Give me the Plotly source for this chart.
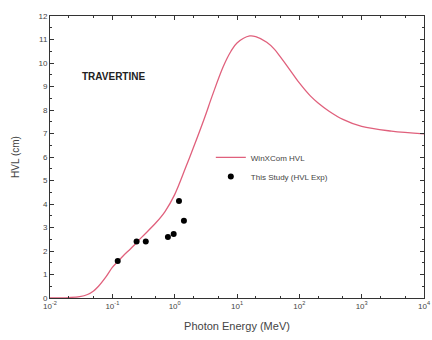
import plotly.graph_objects as go

# WinXCom HVL curve
curve_energy = [0.01, 0.02, 0.03, 0.04, 0.05, 0.06, 0.08, 0.1, 0.122, 0.15, 0.2, 0.3, 0.5,
                0.7, 1, 1.5, 2, 3, 4, 6, 8, 10, 16, 20, 30, 40, 50, 70, 100, 150, 200, 300,
                500, 1000, 3000, 10000]
curve_hvl = [0.0, 0.02, 0.06, 0.15, 0.3, 0.5, 0.92, 1.3, 1.55, 1.8, 2.12, 2.6, 3.2,
             3.68, 4.4, 5.55, 6.4, 7.65, 8.6, 9.84, 10.5, 10.85, 11.15, 11.12, 10.88, 10.58,
             10.25, 9.72, 9.15, 8.6, 8.3, 7.95, 7.6, 7.3, 7.1, 6.98]

# Experimental points
exp_energy = [0.122, 0.245, 0.344, 0.779, 0.964, 1.173, 1.408]
exp_hvl = [1.57, 2.40, 2.40, 2.60, 2.72, 4.13, 3.29]

xtick_vals = [0.01, 0.1, 1, 10, 100, 1000, 10000]
xtick_text = ["10<sup>-2</sup>", "10<sup>-1</sup>", "10<sup>0</sup>", "10<sup>1</sup>",
              "10<sup>2</sup>", "10<sup>3</sup>", "10<sup>4</sup>"]
ytick_vals = list(range(0, 13))

font = "Liberation Sans, Arial, sans-serif"
gray = "#444444"

fig = go.Figure()
fig.add_trace(go.Scatter(x=curve_energy, y=curve_hvl, mode="lines", name="WinXCom HVL",
                         line=dict(color="#e0607c", width=1.3, shape="spline", smoothing=1.0)))
fig.add_trace(go.Scatter(x=exp_energy, y=exp_hvl, mode="markers", name="This Study (HVL Exp)",
                         marker=dict(color="black", size=6)))

fig.add_annotation(text="<b>TRAVERTINE</b>", xref="paper", yref="paper", x=0.079, y=0.787,
                   xanchor="left", yanchor="middle", showarrow=False,
                   font=dict(family=font, size=10, color="#222"))

fig.update_layout(
    width=432, height=340,
    margin=dict(l=50, r=2, t=16, b=42),
    paper_bgcolor="white", plot_bgcolor="white",
    font=dict(family=font, color=gray, size=8),
    legend=dict(x=0.43, y=0.55, xanchor="left", yanchor="top", bgcolor="rgba(0,0,0,0)",
                font=dict(size=8, color=gray), itemwidth=30, tracegroupgap=0),
    showlegend=True,
)
fig.update_xaxes(type="log", range=[-2, 4], tickvals=xtick_vals, ticktext=xtick_text,
                 ticklabeloverflow="allow",
                 ticks="inside", ticklen=4, tickcolor="#333", showline=True, linecolor="#333",
                 linewidth=1, mirror="allticks", showgrid=False, zeroline=False,
                 minor=dict(ticks="inside", ticklen=2, tickcolor="#333", showgrid=False),
                 title=dict(text="Photon Energy (MeV)", font=dict(size=11, color=gray), standoff=12),
                 tickfont=dict(size=8, color=gray))
fig.update_yaxes(range=[0, 12], tickvals=ytick_vals, ticks="inside", ticklen=4, tickcolor="#333",
                 showline=True, linecolor="#333", linewidth=1, mirror="allticks",
                 showgrid=False, zeroline=False,
                 minor=dict(ticks="inside", ticklen=2, dtick=0.5, tickcolor="#333", showgrid=False),
                 title=dict(text="HVL (cm)", font=dict(size=10, color=gray), standoff=16),
                 tickfont=dict(size=8, color=gray))

fig.write_html("out.html", config={"displayModeBar": False},
               post_script="document.body.style.margin='0';document.body.style.overflow='hidden';")
